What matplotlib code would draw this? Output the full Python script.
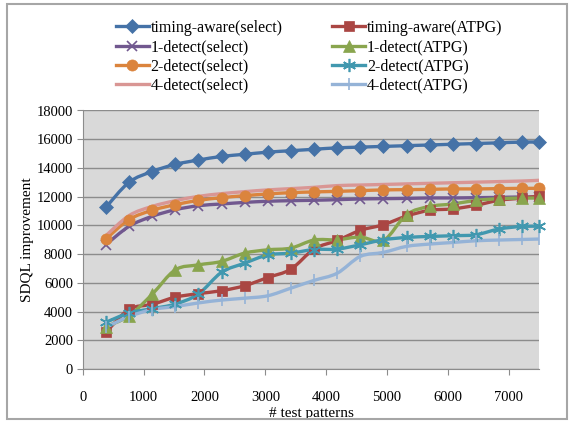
import numpy as np
import matplotlib.pyplot as plt
from matplotlib.path import Path
from matplotlib.patches import PathPatch, Rectangle
from matplotlib.lines import Line2D

plt.rcParams['font.family'] = ['Liberation Serif', 'DejaVu Serif']

# test pattern counts
x = [380, 760, 1140, 1520, 1900, 2280, 2660, 3040, 3420, 3800,
     4180, 4560, 4940, 5320, 5700, 6080, 6460, 6840, 7220, 7500]

ta_select = [11250, 13000, 13750, 14250, 14550, 14800, 14950, 15100, 15200, 15300,
             15400, 15450, 15500, 15550, 15600, 15650, 15700, 15750, 15800, 15800]
ta_atpg = [2550, 4150, 4500, 5000, 5250, 5450, 5800, 6370, 6950, 8350,
           8950, 9650, 10050, 10650, 11050, 11150, 11400, 11750, 11900, 12050]
d1_select = [8650, 9930, 10630, 11090, 11370, 11490, 11600, 11680, 11720, 11750,
             11790, 11840, 11860, 11880, 11910, 11910, 11930, 11950, 11980, 11980]
d1_atpg = [2950, 3700, 5200, 6900, 7250, 7490, 8070, 8300, 8420, 8980,
           9000, 9190, 8950, 10750, 11320, 11490, 11740, 11860, 11900, 11900]
d2_select = [9050, 10400, 11050, 11440, 11740, 11930, 12070, 12190, 12280, 12330,
             12370, 12420, 12470, 12490, 12510, 12540, 12540, 12560, 12580, 12580]
d2_atpg = [3250, 3900, 4200, 4520, 5220, 6730, 7370, 7940, 8070, 8320,
           8350, 8650, 9000, 9160, 9230, 9280, 9350, 9750, 9930, 9930]
d4_select = [9280, 10680, 11320, 11720, 12020, 12210, 12350, 12470, 12560, 12650,
             12770, 12810, 12850, 12890, 12930, 12970, 13010, 13050, 13090, 13140]
d4_atpg = [2900, 3650, 4140, 4350, 4600, 4800, 4930, 5100, 5630, 6170,
           6670, 7840, 8120, 8540, 8700, 8810, 8930, 8980, 9020, 9050]

series = [
    ('timing-aware(select)', ta_select, '#4572A7', 'D', 7),
    ('1-detect(select)', d1_select, '#71588F', 'x', 7.5),
    ('2-detect(select)', d2_select, '#DB843D', 'o', 8),
    ('4-detect(select)', d4_select, '#D99694', None, 0),
    ('timing-aware(ATPG)', ta_atpg, '#AA4643', 's', 7.5),
    ('1-detect(ATPG)', d1_atpg, '#89A54E', '^', 8),
    ('2-detect(ATPG)', d2_atpg, '#4198AF', (6, 2, 0), 9.5),
    ('4-detect(ATPG)', d4_atpg, '#95B3D7', '|', 8),
]


def smooth_path(xs, ys):
    # Excel-like smoothed line: Catmull-Rom segments as cubic Bezier curves
    p = np.column_stack([xs, ys]).astype(float)
    n = len(p)
    verts = [p[0]]
    codes = [Path.MOVETO]
    for i in range(n - 1):
        p0 = p[max(i - 1, 0)]
        p1, p2 = p[i], p[i + 1]
        p3 = p[min(i + 2, n - 1)]
        verts += [p1 + (p2 - p0) / 6, p2 - (p3 - p1) / 6, p2]
        codes += [Path.CURVE4] * 3
    return Path(verts, codes)


fig = plt.figure(figsize=(5.74, 4.23), dpi=100)
fig.patches.append(Rectangle((7 / 574, 4 / 423), 560 / 574, 415 / 423, transform=fig.transFigure,
                             fill=False, edgecolor='#A6A6A6', linewidth=1.5))
ax = fig.add_axes([82.7 / 574, 1 - 369 / 423, 456.6 / 574, 258.5 / 423])
ax.set_facecolor('#D9D9D9')

handles = []
for name, ys, col, mk, ms in series:
    ax.add_patch(PathPatch(smooth_path(x, ys), fill=False, edgecolor=col, linewidth=2.4,
                           capstyle='round', zorder=3))
    mew = 1.2 if mk in ('x', '|') or isinstance(mk, tuple) else 0.5
    if mk is not None:
        ax.plot(x, ys, ls='none', marker=mk, ms=ms, color=col, mec=col, mew=mew,
                zorder=4, clip_on=False)
    handles.append(Line2D([], [], color=col, lw=2.4, marker=mk, ms=ms, mec=col,
                          mew=mew, label=name))

ax.set_xlim(0, 7500)
ax.set_ylim(0, 18000)
ax.set_xticks(range(0, 8000, 1000))
ax.set_yticks(range(0, 18001, 2000))
ax.grid(axis='y', color='#8C8C8C', linewidth=1)
ax.set_axisbelow(True)
for s in ['top', 'right']:
    ax.spines[s].set_visible(False)
for s in ['left', 'bottom']:
    ax.spines[s].set_color('#8C8C8C')
ax.tick_params(axis='both', colors='#8C8C8C', labelcolor='black', labelsize=10.5, length=4)
ax.tick_params(axis='x', pad=12)
ax.tick_params(axis='y', pad=3)

ax.set_xlabel('# test patterns', fontsize=11, labelpad=2)
ax.set_ylabel('SDQL improvement', fontsize=11, labelpad=2)

fig.legend(handles=handles, ncol=2, loc='upper left', bbox_to_anchor=(116 / 574, 1 - 20 / 423),
           frameon=False, fontsize=11.5, handlelength=2.05, handletextpad=0.12,
           columnspacing=3.1, labelspacing=0.2, borderaxespad=0, borderpad=0)

fig.savefig('out.png', dpi=100)
